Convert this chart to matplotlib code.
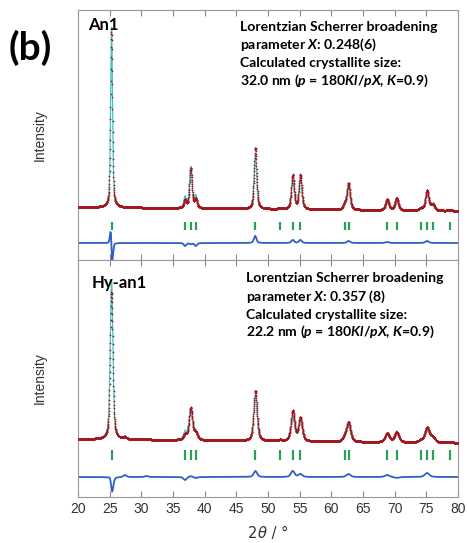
import numpy as np
import matplotlib.pyplot as plt
from matplotlib.offsetbox import TextArea, HPacker, AnchoredOffsetbox

plt.rcParams['mathtext.fontset'] = 'custom'
plt.rcParams['mathtext.rm'] = 'Lato:bold'
plt.rcParams['mathtext.it'] = 'Lato:bold:italic'
plt.rcParams['mathtext.bf'] = 'Lato:bold'

# reflection positions (anatase), same for both samples
hkl_pos = [25.3, 36.9, 37.8, 38.6, 48.0, 51.9, 53.9, 55.1, 62.1, 62.7, 68.8, 70.3, 74.1, 75.1, 76.0, 78.7]

# An1 - peak heights above background (observed / calculated), FWHM in deg
an1_obs_h = [175, 8, 40, 9, 61, 1, 34, 34, 5, 26, 11, 12, 2, 20, 6, 1]
an1_calc_h = [180, 11, 41, 12, 54, 1, 31, 31, 5, 24, 10, 12, 2, 18, 6, 1]
an1_fwhm = [0.36, 0.44, 0.46, 0.46, 0.48, 0.50, 0.52, 0.52, 0.57, 0.57, 0.60, 0.61, 0.63, 0.63, 0.65, 0.68]
an1_shift = [-0.022, 0, 0, 0, -0.004, 0, 0, 0, 0, 0, 0, 0, 0, 0, 0, 0]
an1_bg = [53, 49]          # background at 20 and 80 deg
an1_diff_off = 17

# Hy-an1
hy_obs_h = [147, 5, 32, 7, 50, 1, 30, 23, 4, 19, 9, 10, 2, 15, 5, 1]
hy_calc_h = [159, 8, 31, 8, 44, 1, 24, 20, 4, 16, 7, 11, 2, 11, 5, 1]
hy_fwhm = [0.50, 0.58, 0.62, 0.62, 0.64, 0.66, 0.68, 0.68, 0.75, 0.75, 0.80, 0.82, 0.84, 0.85, 0.86, 0.90]
hy_shift = [-0.012, 0, 0, 0, 0, 0, 0, 0, 0, 0, 0, 0, 0, 0, 0, 0]
hy_extra_pos = [27.4, 30.8]   # small impurity bumps, observed only
hy_extra_h = [2, 1]
hy_bg = [58, 54]
hy_diff_off = 20

tth = np.arange(20, 80.001, 0.02)


def pv(x, pos, h, w, eta=0.5):
    d = (x - pos) / w
    return h * (eta / (1 + 4 * d**2) + (1 - eta) * np.exp(-4 * np.log(2) * d**2))


def profile(pos, hts, fwhm, shift, bg):
    y = bg[0] + (bg[1] - bg[0]) * (tth - 20) / 60
    for p, h, w, s in zip(pos, hts, fwhm, shift):
        y = y + pv(tth, p + s, h, w)
    return y


zero = [0] * len(hkl_pos)
an1_obs = profile(hkl_pos, an1_obs_h, an1_fwhm, an1_shift, an1_bg)
an1_calc = profile(hkl_pos, an1_calc_h, an1_fwhm, zero, an1_bg)
hy_obs = profile(hkl_pos, hy_obs_h, hy_fwhm, hy_shift, hy_bg)
hy_obs = hy_obs + profile(hy_extra_pos, hy_extra_h, [0.6, 0.6], [0, 0], [0, 0])
hy_calc = profile(hkl_pos, hy_calc_h, hy_fwhm, zero, hy_bg)

fig = plt.figure(figsize=(4.67, 5.43), dpi=100)
ax1 = fig.add_axes([0.167, 0.5212, 0.814, 0.4604])
ax2 = fig.add_axes([0.167, 0.0847, 0.814, 0.4365])

panels = [(ax1, an1_obs, an1_calc, an1_diff_off, (30, 38), 250),
          (ax2, hy_obs, hy_calc, hy_diff_off, (37, 47), 237)]
for ax, obs, calc, off, tk, ytop in panels:
    ax.plot(tth, calc, color='#3cc8c8', lw=0.9, zorder=2)
    ax.plot(tth, obs, ls='none', marker='+', ms=1.8, mew=0.5, color='#a3161e', zorder=3)
    ax.plot(tth, obs - calc + off, color='#2f5fc4', lw=1.3, zorder=2)
    ax.vlines(hkl_pos, tk[0], tk[1], color='#2ca05a', lw=1.6, zorder=4)
    ax.set_xlim(20, 80)
    ax.set_ylim(0, ytop)
    ax.set_yticks([])
    ax.set_xticks(range(20, 81, 5))
    ax.tick_params(axis='x', direction='in', top=True, bottom=True, length=4,
                   color='#888888', labelsize=10, labelcolor='#333333')
    for sp in ax.spines.values():
        sp.set_color('#999999')
    ax.set_ylabel('Intensity', fontsize=10, color='#333333', family='Liberation Sans')
    ax.yaxis.set_label_coords(-0.082, 0.5)

ax1.tick_params(axis='x', labelbottom=False)
for lb in ax2.get_xticklabels():
    lb.set_family('Liberation Sans')

bold = dict(family='Lato', fontweight='bold', color='black')
ax1.text(21.6, 235, 'An1', fontsize=12, va='center', **bold)
ax2.text(22.2, 214, 'Hy-an1', fontsize=12, va='center', **bold)

an1_lines = ['Lorentzian Scherrer broadening', 'parameter $X$: 0.248(6)',
             'Calculated crystallite size:', '32.0 nm ($p$ = 180$Kl$/$pX$, $K$=0.9)']
hy_lines = ['Lorentzian Scherrer broadening', 'parameter $X$: 0.357 (8)',
            'Calculated crystallite size:', '22.2 nm ($p$ = 180$Kl$/$pX$, $K$=0.9)']
for i, s in enumerate(an1_lines):
    ax1.text(45.6, [233, 215, 197, 179][i], s, fontsize=10.1, va='center', **bold)
for i, s in enumerate(hy_lines):
    ax2.text(46.5, [219, 200, 182, 165][i], s, fontsize=10.1, va='center', **bold)

fig.text(0.018, 0.89, '(b)', fontsize=28, family='Lato', fontweight='bold')

# x label: 2θ / °
tp = dict(fontsize=10.5, color='#333333', family='DejaVu Sans')
xl = HPacker(children=[TextArea('2', textprops=tp),
                       TextArea('θ', textprops=dict(tp, style='italic')),
                       TextArea(' / °', textprops=tp)], pad=0, sep=0, align='baseline')
box = AnchoredOffsetbox(loc='center', child=xl, frameon=False, pad=0,
                        bbox_to_anchor=(0.5, -0.155), bbox_transform=ax2.transAxes)
ax2.add_artist(box)

fig.savefig('out.png', dpi=100)
